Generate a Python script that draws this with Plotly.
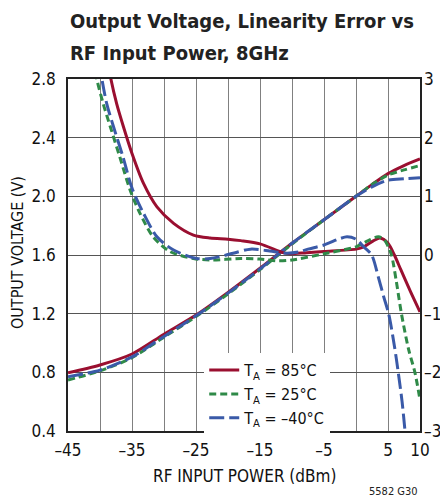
import plotly.graph_objects as go

# ---------------- data ----------------
P_VOUT = [-45, -40, -35, -30, -25, -20, -15, -10, -5, 0, 2.5, 5, 7.5, 10]
VOUT_85 = [0.797, 0.85, 0.925, 1.06, 1.19, 1.345, 1.51, 1.68, 1.84, 2.00, 2.08, 2.155, 2.21, 2.255]
VOUT_25 = [0.748, 0.81, 0.90, 1.04, 1.18, 1.335, 1.50, 1.675, 1.84, 2.00, 2.08, 2.145, 2.18, 2.21]
VOUT_M40 = [0.77, 0.815, 0.905, 1.045, 1.185, 1.34, 1.505, 1.68, 1.84, 2.00, 2.065, 2.11, 2.12, 2.127]

P_ERR_85 = [-38.8, -38.3, -37.4, -36.35, -35, -33.2, -31.1, -28.5, -25.4, -22.8, -20, -18, -15,
            -11.4, -10.3, -7.7, -5, 0, 1, 2.7, 3.75, 5, 6, 7, 8.5, 10]
ERR_85 = [3.3, 3.0, 2.58, 2.19, 1.73, 1.22, 0.82, 0.54, 0.34, 0.29, 0.27, 0.245, 0.19,
          0.04, 0.02, 0.04, 0.06, 0.1, 0.13, 0.24, 0.29, 0.2, 0.0, -0.25, -0.62, -0.97]

P_ERR_25 = [-40.9, -40.5, -39.5, -38.4, -36.9, -35.3, -33.75, -31.7, -29.1, -25.4, -22.8, -18, -15,
            -12, -10, -5, -1, 0, 2, 3.5, 4.5, 5, 5.55, 6.3, 7.1, 8.2, 9.2, 10]
ERR_25 = [3.3, 3.0, 2.58, 2.19, 1.67, 1.11, 0.71, 0.31, 0.06, -0.06, -0.085, -0.06, -0.07,
          -0.1, -0.085, 0.02, 0.11, 0.14, 0.25, 0.31, 0.25, 0.15, 0.0, -0.45, -1.0, -1.6, -2.0, -2.47]

P_ERR_M40 = [-40.1, -39.7, -38.95, -37.9, -36.4, -35, -33.2, -31.1, -28.5, -24.9, -22.8, -19.2, -16.5,
             -13.5, -11, -9, -7.5, -5, -2.5, -1.4, 0, 1.2, 2.45, 3.5, 4.3, 5.1, 6.0, 6.6, 7.2, 7.7, 7.9]
ERR_M40 = [3.3, 3.0, 2.58, 2.19, 1.67, 1.14, 0.71, 0.31, 0.085, -0.06, -0.06, 0.03, 0.1,
           0.07, 0.03, 0.05, 0.1, 0.17, 0.28, 0.31, 0.27, 0.14, 0.0, -0.38, -0.7, -1.0, -1.55, -2.0, -2.5, -3.05, -3.3]

X_TICKVALS = [-45, -35, -25, -15, -5, 5, 10]
X_TICKTEXT = ["\u201345", "\u201335", "\u201325", "\u201315", "\u20135", "5", "10"]
X_GRIDVALS = [-45, -40, -35, -30, -25, -20, -15, -10, -5, 0, 5, 10]
Y_TICKVALS = [0.4, 0.8, 1.2, 1.6, 2.0, 2.4, 2.8]
Y_TICKTEXT = ["0.4", "0.8", "1.2", "1.6", "2.0", "2.4", "2.8"]
Y2_TICKVALS = [-3, -2, -1, 0, 1, 2, 3]
Y2_TICKTEXT = ["\u20133", "\u20132", "\u20131", "0", "1", "2", "3"]

TITLE_LINES = ["Output Voltage, Linearity Error vs", "RF Input Power, 8GHz"]
X_TITLE = "RF INPUT POWER (dBm)"
Y_TITLE = "OUTPUT VOLTAGE (V)"
FIG_ID = "5582 G30"

SERIES = [
    ("T<sub>A</sub> = 85°C", P_VOUT, VOUT_85, P_ERR_85, ERR_85, "#9a0f30", "solid"),
    ("T<sub>A</sub> = 25°C", P_VOUT, VOUT_25, P_ERR_25, ERR_25, "#2f8a48", "7px,4px"),
    ("T<sub>A</sub> = \u201340°C", P_VOUT, VOUT_M40, P_ERR_M40, ERR_M40, "#3a5aa8", "15px,5px"),
]

FONT = "DejaVu Sans Condensed, DejaVu Sans, sans-serif"

fig = go.Figure()
for name, px, vy, pe, ey, color, dash in SERIES:
    fig.add_trace(go.Scatter(x=px, y=vy, mode="lines", name=name, legendgroup=name,
                             line=dict(color=color, width=3, dash=dash, shape="spline", smoothing=0.8),
                             yaxis="y", showlegend=True))
    fig.add_trace(go.Scatter(x=pe, y=ey, mode="lines", name=name, legendgroup=name,
                             line=dict(color=color, width=3, dash=dash, shape="spline", smoothing=0.8),
                             yaxis="y2", showlegend=False))

# page body has an 8px margin, so the figure is 8px smaller than the window
fig.update_layout(
    width=440, height=495,
    margin=dict(l=60, r=28, t=71, b=72, autoexpand=False),
    paper_bgcolor="white", plot_bgcolor="white",
    font=dict(family=FONT, size=17, color="#111"),
    xaxis=dict(range=[-45, 10], tickvals=X_TICKVALS, ticktext=X_TICKTEXT,
               showgrid=True, gridcolor="#808080", gridwidth=1.4,
               minor=dict(tickvals=X_GRIDVALS, showgrid=True, gridcolor="#808080",
                          gridwidth=1.4, ticks=""),
               showline=True, linecolor="#222", linewidth=1.5, mirror=True,
               ticks="", ticklabelstandoff=3, zeroline=False, automargin=False),
    yaxis=dict(range=[0.4, 2.8], tickvals=Y_TICKVALS, ticktext=Y_TICKTEXT,
               showgrid=True, gridcolor="#555", gridwidth=1.2,
               showline=True, linecolor="#222", linewidth=1.5, mirror=True,
               ticks="", ticklabelstandoff=7, zeroline=False, automargin=False),
    yaxis2=dict(range=[-3, 3], tickvals=Y2_TICKVALS, ticktext=Y2_TICKTEXT,
                overlaying="y", side="right", showgrid=False, zeroline=False,
                ticks="", ticklabelstandoff=3, showline=False, automargin=False,
                tickfont=dict(size=17)),
    legend=dict(x=0.387, y=-0.012, xanchor="left", yanchor="bottom",
                bgcolor="white", borderwidth=0, tracegroupgap=0,
                font=dict(size=16), itemwidth=30),
    showlegend=True,
)

# title lines
for i, line in enumerate(TITLE_LINES):
    fig.add_annotation(text="<b>" + line + "</b>", xref="paper", yref="paper",
                       x=0, y=(431 - (21 + 32 * i)) / 352, xanchor="left", yanchor="middle",
                       showarrow=False, font=dict(size=20, family=FONT, color="#222"))

fig.add_annotation(text=X_TITLE, xref="paper", yref="paper", x=0.5, y=(431 - 476) / 352,
                   xanchor="center", yanchor="middle", showarrow=False,
                   font=dict(size=17, family=FONT, color="#111"))
fig.add_annotation(text=Y_TITLE, xref="paper", yref="paper", x=(18 - 68) / 352, y=(431 - 253) / 352,
                   xanchor="center", yanchor="middle", textangle=-90, showarrow=False,
                   font=dict(size=16, family=FONT, color="#111"))
fig.add_annotation(text=FIG_ID, xref="paper", yref="paper", x=1, y=(431 - 491) / 352,
                   xanchor="right", yanchor="middle", showarrow=False,
                   font=dict(size=11, family=FONT, color="#222"))

fig.write_html("out.html")
